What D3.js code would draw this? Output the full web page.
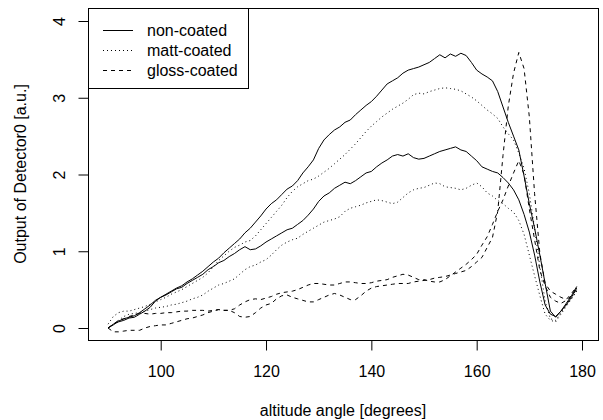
<!DOCTYPE html>
<html lang="en">
<head>
<meta charset="UTF-8">
<title>Detector output vs altitude angle</title>
<script src="https://cdn.jsdelivr.net/npm/d3@7"></script>
<style>
    body { margin: 0; background: #fff; }
    svg { display: block; }
    .lbl { font-family: "Liberation Sans", Arial, sans-serif; font-size: 16px; fill: #000; }
    .axticks text { font-family: "Liberation Sans", Arial, sans-serif; font-size: 16px; fill: #000; }
    .axticks line { stroke: #000; }
    .axticks path { display: none; }
    path.curve { fill: none; stroke: #000; stroke-width: 1px; }
</style>
</head>
<body>
<div id="chart"></div>
<script>
// altitude angle [degrees]
var angles = [90, 91, 92, 93, 94, 95, 96, 97, 98, 99,
    100, 101, 102, 103, 104, 105, 106, 107, 108, 109,
    110, 111, 112, 113, 114, 115, 116, 117, 118, 119,
    120, 121, 122, 123, 124, 125, 126, 127, 128, 129,
    130, 131, 132, 133, 134, 135, 136, 137, 138, 139,
    140, 141, 142, 143, 144, 145, 146, 147, 148, 149,
    150, 151, 152, 153, 154, 155, 156, 157, 158, 159,
    160, 161, 162, 163, 164, 165, 166, 167, 168, 169,
    170, 171, 172, 173, 174, 175, 176, 177, 178, 179];

// non-coated, two measurements
var nonCoatedA = [0.00, 0.05, 0.08, 0.10, 0.13, 0.14, 0.18, 0.22, 0.27, 0.35,
    0.40, 0.44, 0.48, 0.52, 0.55, 0.60, 0.64, 0.69, 0.74, 0.80,
    0.86, 0.91, 0.98, 1.04, 1.10, 1.16, 1.24, 1.30, 1.38, 1.46,
    1.55, 1.62, 1.67, 1.74, 1.81, 1.85, 1.92, 2.02, 2.10, 2.19,
    2.34, 2.45, 2.52, 2.58, 2.62, 2.68, 2.71, 2.78, 2.84, 2.90,
    2.95, 3.02, 3.10, 3.18, 3.22, 3.26, 3.32, 3.36, 3.38, 3.40,
    3.43, 3.46, 3.51, 3.56, 3.52, 3.57, 3.54, 3.58, 3.55, 3.46,
    3.36, 3.31, 3.27, 3.22, 3.08, 2.88, 2.68, 2.50, 2.32, 1.98,
    1.62, 1.30, 0.95, 0.58, 0.22, 0.14, 0.22, 0.32, 0.42, 0.54];
var nonCoatedB = [0.00, 0.04, 0.09, 0.12, 0.14, 0.16, 0.20, 0.25, 0.30, 0.36,
    0.40, 0.43, 0.47, 0.51, 0.53, 0.58, 0.62, 0.66, 0.70, 0.76,
    0.80, 0.85, 0.88, 0.93, 0.97, 1.02, 1.06, 1.02, 1.03, 1.07,
    1.12, 1.16, 1.20, 1.24, 1.28, 1.30, 1.35, 1.40, 1.47, 1.55,
    1.65, 1.72, 1.76, 1.82, 1.86, 1.90, 1.88, 1.92, 1.97, 2.02,
    2.04, 2.10, 2.15, 2.19, 2.24, 2.26, 2.24, 2.27, 2.22, 2.20,
    2.21, 2.24, 2.27, 2.30, 2.32, 2.34, 2.36, 2.32, 2.30, 2.24,
    2.18, 2.10, 2.07, 2.04, 2.02, 1.96, 1.89, 1.80, 1.67, 1.48,
    1.25, 0.95, 0.60, 0.30, 0.18, 0.15, 0.22, 0.30, 0.40, 0.52];

// matt-coated, two measurements
var mattA = [0.05, 0.15, 0.20, 0.22, 0.22, 0.24, 0.26, 0.28, 0.31, 0.34,
    0.37, 0.40, 0.44, 0.47, 0.50, 0.54, 0.58, 0.62, 0.66, 0.72,
    0.80, 0.88, 0.94, 1.00, 1.05, 1.08, 1.12, 1.14, 1.20, 1.28,
    1.36, 1.44, 1.52, 1.60, 1.70, 1.78, 1.84, 1.88, 1.92, 1.94,
    1.98, 2.03, 2.08, 2.14, 2.20, 2.26, 2.33, 2.40, 2.48, 2.56,
    2.63, 2.69, 2.75, 2.80, 2.85, 2.89, 2.93, 2.98, 3.04, 3.06,
    3.05, 3.08, 3.10, 3.12, 3.13, 3.12, 3.11, 3.09, 3.05, 3.01,
    2.96, 2.90, 2.84, 2.79, 2.73, 2.62, 2.53, 2.45, 2.28, 2.08,
    1.75, 1.30, 0.80, 0.35, 0.12, 0.10, 0.20, 0.30, 0.38, 0.48];
var mattB = [0.00, 0.05, 0.10, 0.15, 0.18, 0.19, 0.20, 0.22, 0.24, 0.26,
    0.27, 0.28, 0.30, 0.31, 0.33, 0.35, 0.38, 0.40, 0.43, 0.48,
    0.52, 0.56, 0.58, 0.61, 0.64, 0.70, 0.76, 0.80, 0.82, 0.86,
    0.89, 0.95, 1.02, 1.08, 1.12, 1.15, 1.17, 1.22, 1.26, 1.30,
    1.34, 1.38, 1.40, 1.42, 1.45, 1.52, 1.56, 1.58, 1.60, 1.63,
    1.65, 1.67, 1.66, 1.64, 1.62, 1.64, 1.70, 1.76, 1.80, 1.82,
    1.83, 1.86, 1.89, 1.88, 1.84, 1.83, 1.82, 1.80, 1.82, 1.86,
    1.89, 1.84, 1.76, 1.72, 1.66, 1.62, 1.56, 1.51, 1.40, 1.22,
    0.95, 0.68, 0.42, 0.18, 0.10, 0.08, 0.18, 0.28, 0.38, 0.48];

// gloss-coated, two measurements
var glossA = [0.00, -0.05, -0.05, -0.04, -0.03, -0.03, -0.03, 0.00, 0.02, 0.03,
    0.04, 0.04, 0.06, 0.08, 0.10, 0.12, 0.13, 0.15, 0.17, 0.20,
    0.22, 0.24, 0.23, 0.23, 0.20, 0.15, 0.14, 0.15, 0.20, 0.26,
    0.30, 0.32, 0.38, 0.42, 0.43, 0.40, 0.38, 0.36, 0.34, 0.34,
    0.37, 0.40, 0.43, 0.45, 0.43, 0.40, 0.37, 0.37, 0.42, 0.48,
    0.52, 0.54, 0.55, 0.56, 0.57, 0.58, 0.58, 0.58, 0.60, 0.61,
    0.62, 0.63, 0.65, 0.66, 0.67, 0.69, 0.71, 0.73, 0.75, 0.80,
    0.86, 0.92, 1.05, 1.18, 1.52, 2.25, 2.89, 3.32, 3.59, 3.38,
    2.75, 1.75, 0.97, 0.58, 0.48, 0.44, 0.40, 0.37, 0.45, 0.54];
var glossB = [0.00, 0.05, 0.10, 0.12, 0.15, 0.17, 0.19, 0.19, 0.18, 0.19,
    0.19, 0.20, 0.20, 0.21, 0.22, 0.22, 0.23, 0.23, 0.23, 0.22,
    0.23, 0.24, 0.23, 0.23, 0.25, 0.30, 0.34, 0.37, 0.38, 0.37,
    0.39, 0.41, 0.44, 0.46, 0.47, 0.48, 0.50, 0.53, 0.56, 0.58,
    0.58, 0.57, 0.56, 0.56, 0.58, 0.60, 0.60, 0.59, 0.58, 0.58,
    0.59, 0.61, 0.62, 0.63, 0.66, 0.68, 0.70, 0.69, 0.66, 0.63,
    0.63, 0.61, 0.60, 0.60, 0.63, 0.68, 0.73, 0.78, 0.83, 0.89,
    0.96, 1.08, 1.19, 1.35, 1.52, 1.67, 1.85, 2.02, 2.18, 2.00,
    1.55, 1.15, 0.75, 0.55, 0.40, 0.35, 0.32, 0.36, 0.42, 0.50];

var xTicks = [100, 120, 140, 160, 180];
var yTicks = [0, 1, 2, 3, 4];
var legendLabels = ["non-coated", "matt-coated", "gloss-coated"];
var legendDash = ["none", "1,3", "4,4"];

var series = [
    {values: nonCoatedA, dash: "none"},
    {values: nonCoatedB, dash: "none"},
    {values: mattA, dash: "1,3"},
    {values: mattB, dash: "1,3"},
    {values: glossA, dash: "4,4"},
    {values: glossB, dash: "4,4"}
];

var width = 603, height = 420;
// plot box
var box = {left: 88, top: 8, right: 598, bottom: 340};

var svg = d3.select("#chart")
    .append("svg")
    .attr("width", width)
    .attr("height", height);

var x = d3.scaleLinear()
    .domain([100, 180])
    .range([160.7, 582]);

var y = d3.scaleLinear()
    .domain([0, 4])
    .range([328, 21]);

var line = d3.line()
    .x(function(d) { return x(d[0]); })
    .y(function(d) { return y(d[1]); });

svg.selectAll("path.curve")
    .data(series)
    .enter()
    .append("path")
    .attr("class", "curve")
    .attr("stroke-dasharray", function(d) { return d.dash; })
    .attr("d", function(d) {
        return line(angles.map(function(a, i) { return [a, d.values[i]]; }));
    });

// frame
svg.append("rect")
    .attr("x", box.left + 0.5)
    .attr("y", box.top + 0.5)
    .attr("width", box.right - box.left)
    .attr("height", box.bottom - box.top)
    .style("fill", "none")
    .style("stroke", "#000");

// x axis
svg.append("g")
    .attr("class", "axticks")
    .attr("transform", "translate(0," + (box.bottom + 0.5) + ")")
    .call(d3.axisBottom(x).tickValues(xTicks).tickSize(10).tickPadding(15).tickFormat(d3.format("d")));

// y axis, labels turned like R does
var yAxis = svg.append("g")
    .attr("class", "axticks")
    .attr("transform", "translate(" + (box.left + 0.5) + ",0)")
    .call(d3.axisLeft(y).tickValues(yTicks).tickSize(10).tickFormat(d3.format("d")));
yAxis.selectAll("text")
    .attr("x", 0)
    .attr("y", -24)
    .attr("dy", 0)
    .attr("transform", "rotate(-90)")
    .style("text-anchor", "middle");

// axis titles
svg.append("text")
    .attr("class", "lbl")
    .attr("x", (box.left + box.right) / 2)
    .attr("y", 416)
    .style("text-anchor", "middle")
    .text("altitude angle [degrees]");

svg.append("text")
    .attr("class", "lbl")
    .attr("transform", "translate(26," + ((box.top + box.bottom) / 2) + ") rotate(-90)")
    .style("text-anchor", "middle")
    .text("Output of Detector0 [a.u.]");

// legend
var legend = svg.append("g")
    .attr("transform", "translate(" + box.left + "," + box.top + ")");

legend.append("rect")
    .attr("x", 0.5)
    .attr("y", 0.5)
    .attr("width", 160)
    .attr("height", 80)
    .style("fill", "#fff")
    .style("stroke", "#000");

legend.selectAll("line")
    .data(legendLabels)
    .enter()
    .append("line")
    .attr("x1", 15)
    .attr("x2", 45)
    .attr("y1", function(d, i) { return 22.5 + i * 20; })
    .attr("y2", function(d, i) { return 22.5 + i * 20; })
    .attr("stroke-dasharray", function(d, i) { return legendDash[i]; })
    .style("stroke", "#000");

legend.selectAll("text")
    .data(legendLabels)
    .enter()
    .append("text")
    .attr("class", "lbl")
    .attr("x", 59)
    .attr("y", function(d, i) { return 22 + i * 20; })
    .attr("dy", "0.35em")
    .text(function(d) { return d; });
</script>
</body>
</html>
